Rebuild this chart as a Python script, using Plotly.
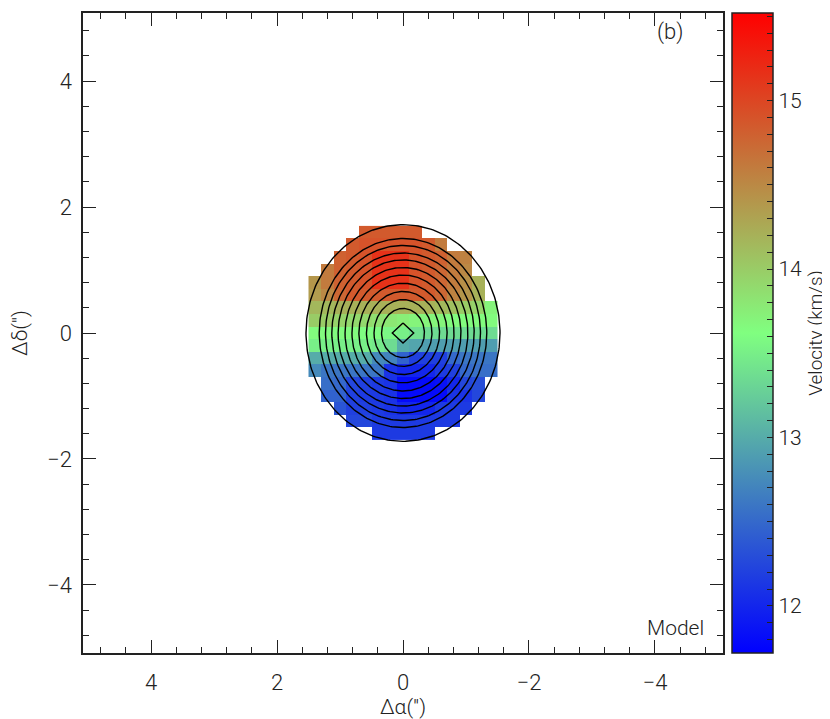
import numpy as np
import plotly.graph_objects as go

# Pixel grid of the model velocity map (arcsec offsets)
x_pix = [1.4, 1.2, 1.0, 0.8, 0.6, 0.4, 0.2, 0.0, -0.2, -0.4, -0.6, -0.8, -1.0, -1.2, -1.4]
y_pix = [1.6, 1.4, 1.2, 1.0, 0.8, 0.6, 0.4, 0.2, 0.0, -0.2, -0.4, -0.6, -0.8, -1.0, -1.2, -1.4, -1.6]

N = None
# velocity (km/s), rows from top (y=1.6) to bottom (y=-1.6), columns from x=1.4 to x=-1.4
vel = [
    [N, N, N, N, 14.85, 14.85, 14.85, 14.85, 14.85, N, N, N, N, N, N],
    [N, N, N, 14.85, 14.9, 14.9, 14.9, 14.9, 14.9, 14.85, 14.6, N, N, N, N],
    [N, N, 14.8, 14.85, 14.9, 15.15, 15.15, 15.15, 14.9, 14.85, 14.8, 14.6, 14.55, N, N],
    [N, 14.6, 14.8, 14.85, 14.9, 15.15, 15.15, 15.15, 14.9, 14.85, 14.75, 14.6, 14.5, N, N],
    [14.4, 14.6, 14.8, 14.85, 14.9, 15.15, 15.15, 15.15, 14.9, 14.85, 14.75, 14.6, 14.45, 14.2, N],
    [14.35, 14.5, 14.75, 14.85, 14.85, 14.85, 14.85, 14.85, 14.85, 14.85, 14.75, 14.55, 14.4, 14.2, N],
    [14.15, 14.15, 14.2, 14.2, 14.2, 14.2, 14.2, 14.2, 14.2, 14.2, 14.15, 14.1, 14.0, 13.95, 13.7],
    [14.0, 14.0, 13.95, 13.9, 13.9, 13.85, 13.8, 13.75, 13.7, 13.7, 13.7, 13.65, 13.65, 13.65, 13.65],
    [13.65, 13.65, 13.65, 13.65, 13.6, 13.6, 13.55, 13.5, 13.4, 13.35, 13.35, 13.35, 13.35, 13.35, 13.35],
    [13.5, 13.5, 13.5, 13.5, 13.5, 13.45, 13.35, 13.0, 12.95, 12.9, 12.9, 12.9, 12.9, 12.9, 12.9],
    [13.0, 13.0, 13.0, 13.0, 13.0, 12.75, 12.7, 12.45, 12.2, 12.2, 12.2, 12.5, 12.6, 12.6, 12.6],
    [12.75, 12.6, 12.6, 12.6, 12.6, 12.6, 12.1, 12.0, 12.0, 12.0, 12.15, 12.2, 12.5, 12.55, 12.55],
    [N, 12.55, 12.5, 12.25, 12.2, 12.15, 12.1, 11.8, 11.8, 11.8, 11.85, 12.0, 12.25, 12.3, N],
    [N, 12.45, 12.45, 12.2, 12.15, 12.15, 12.1, 11.8, 11.8, 11.8, 11.8, 12.1, 12.1, 12.25, N],
    [N, N, 12.35, 12.2, 12.2, 12.15, 12.1, 12.0, 12.0, 12.0, 12.15, 12.15, 12.15, N, N],
    [N, N, N, 12.25, 12.25, 12.15, 12.15, 12.15, 12.15, 12.15, 12.15, 12.15, N, N, N],
    [N, N, N, N, N, 12.15, 12.15, 12.15, 12.15, 12.15, N, N, N, N, N],
]

# intensity contours: semi-axes in arcsec (x, y)
contour_rx = [1.54, 1.33, 1.23, 1.13, 1.03, 0.92, 0.81, 0.70, 0.58, 0.46, 0.34]
contour_ry = [1.72, 1.50, 1.39, 1.27, 1.16, 1.04, 0.92, 0.79, 0.66, 0.53, 0.39]
# innermost contour (diamond): vertices
diamond_x = [0.0, 0.17, 0.0, -0.17, 0.0]
diamond_y = [0.16, 0.0, -0.16, 0.0, 0.16]

vmin, vmax = 11.72, 15.52
cbar_major = [12, 13, 14, 15]
cbar_minor = [round(11.8 + 0.1 * i, 1) for i in range(38)]

FONT = "Roboto, Liberation Sans, Arial, sans-serif"
INK = "#222222"

fig = go.Figure()

fig.add_trace(go.Heatmap(
    x=x_pix, y=y_pix, z=vel,
    zmin=vmin, zmax=vmax,
    colorscale=[[0.0, "rgb(0,0,255)"], [0.5, "rgb(128,255,128)"], [1.0, "rgb(255,0,0)"]],
    hoverongaps=False,
    colorbar=dict(
        x=1.014, xanchor="left", xpad=0,
        y=0.5, yanchor="middle", len=1.0, lenmode="fraction", ypad=0,
        thickness=41, thicknessmode="pixels",
        outlinewidth=1.5, outlinecolor=INK,
        tickmode="array",
        tickvals=cbar_minor,
        ticktext=[f"{v:.0f}" if v in cbar_major else "" for v in cbar_minor],
        ticks="inside", ticklen=6, tickwidth=1.2, tickcolor=INK,
        ticklabelposition="outside",
        tickfont=dict(family=FONT, size=21, color=INK, weight=300),
        title=dict(text="Velocity (km/s)", side="right",
                   font=dict(family=FONT, size=19, color=INK, weight=300)),
    ),
))

# contours
t = np.linspace(0, 2 * np.pi, 241)
for rx, ry in zip(contour_rx, contour_ry):
    fig.add_trace(go.Scatter(
        x=rx * np.cos(t), y=ry * np.sin(t), mode="lines",
        line=dict(color="black", width=1.4), hoverinfo="skip", showlegend=False,
    ))
fig.add_trace(go.Scatter(
    x=diamond_x, y=diamond_y, mode="lines",
    line=dict(color="black", width=1.4), hoverinfo="skip", showlegend=False,
))

# longer major ticks on the colour bar (colour bars have no minor/major split)
for v in cbar_major:
    yy = (v - vmin) / (vmax - vmin)
    fig.add_shape(type="line", xref="paper", yref="paper",
                  x0=1.0615, x1=1.078, y0=yy, y1=yy,
                  line=dict(color=INK, width=1.3))

axis_common = dict(
    showgrid=False, zeroline=False, automargin=False,
    showline=True, linecolor=INK, linewidth=1.5, mirror="allticks",
    ticks="inside", ticklen=13, tickwidth=1.2, tickcolor=INK,
    dtick=2, tick0=0,
    minor=dict(ticks="inside", ticklen=6, tickwidth=1.2, tickcolor=INK, dtick=0.4, tick0=0),
    tickfont=dict(family=FONT, size=22, color=INK, weight=300),
)

fig.update_xaxes(
    range=[5.08, -5.08], ticklabelstandoff=9,
    title=dict(text="Δα('')", font=dict(family=FONT, size=21, color=INK, weight=300), standoff=7),
    **axis_common,
)
fig.update_yaxes(
    range=[-5.08, 5.08], ticklabelstandoff=5,
    title=dict(text="Δδ('')", font=dict(family=FONT, size=21, color=INK, weight=300), standoff=20),
    **axis_common,
)

fig.add_annotation(text="(b)", x=0.917, y=0.970, xref="paper", yref="paper",
                   xanchor="center", yanchor="middle",
                   showarrow=False, font=dict(family=FONT, size=22, color=INK, weight=300))
fig.add_annotation(text="Model", x=0.925, y=0.039, xref="paper", yref="paper",
                   xanchor="center", yanchor="middle",
                   showarrow=False, font=dict(family=FONT, size=21, color=INK, weight=300))

# the page body adds an 8 px offset, so the figure is sized and placed to compensate
fig.update_layout(
    width=822, height=711,
    margin=dict(l=75, r=107, t=5, b=66, autoexpand=False),
    paper_bgcolor="white", plot_bgcolor="white",
    showlegend=False,
)

fig.write_html("out.html")
